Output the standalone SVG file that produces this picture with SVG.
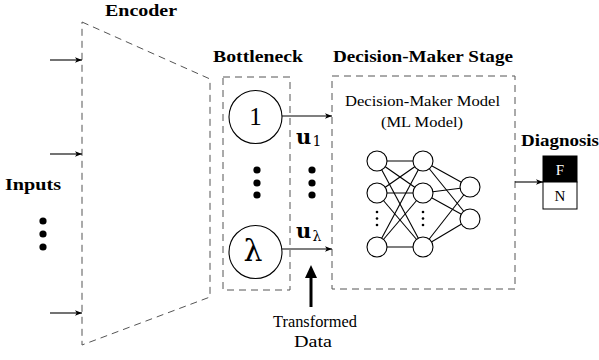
<svg xmlns="http://www.w3.org/2000/svg" width="599" height="360" viewBox="0 0 599 360">
  <style>
    .dash { fill: none; stroke: #555; stroke-width: 1; stroke-dasharray: 7 5; }
    .wire { fill: none; stroke: #000; stroke-width: 1.1; }
    .arrow { fill: none; stroke: #000; stroke-width: 1.1; marker-end: url(#tip); }
    .node { fill: #fff; stroke: #000; stroke-width: 1.1; }
    .dot { fill: #000; }
    .title { font-family: "Liberation Serif", "Times New Roman", "DejaVu Serif", serif; font-weight: bold; font-size: 17px; fill: #000; }
    .label { font-family: "Liberation Serif", "Times New Roman", "DejaVu Serif", serif; font-size: 14.5px; fill: #000; }
    .math { font-family: "DejaVu Serif", "Liberation Serif", serif; fill: #000; }
  </style>
  <defs>
    <marker id="tip" viewBox="0 0 10 10" refX="10" refY="5" markerWidth="7" markerHeight="7" markerUnits="userSpaceOnUse" orient="auto">
      <path d="M0,1 L10,5 L0,9 L2.5,5 Z" fill="#000"/>
    </marker>
  </defs>

  <rect width="599" height="360" fill="#fff"/>

  <!-- Encoder -->
  <g id="encoder">
    <polygon class="dash" points="82,22 210,79 210,297 82,345"/>
    <text class="title" x="105" y="16" textLength="72" lengthAdjust="spacingAndGlyphs">Encoder</text>
  </g>

  <!-- Inputs -->
  <g id="inputs">
    <text class="title" x="5" y="190" textLength="56" lengthAdjust="spacingAndGlyphs">Inputs</text>
    <circle class="dot" cx="43" cy="221" r="3.6"/>
    <circle class="dot" cx="43" cy="234" r="3.6"/>
    <circle class="dot" cx="43" cy="247" r="3.6"/>
  </g>

  <!-- Bottleneck -->
  <g id="bottleneck">
    <rect class="dash" x="223" y="77" width="67" height="213"/>
    <text class="title" x="213" y="62" textLength="90" lengthAdjust="spacingAndGlyphs">Bottleneck</text>
    <circle class="node" cx="255.5" cy="117" r="26.5"/>
    <text class="label" x="255.5" y="125" text-anchor="middle" style="font-size:25px">1</text>
    <circle class="dot" cx="257" cy="170" r="3.6"/>
    <circle class="dot" cx="257" cy="183" r="3.6"/>
    <circle class="dot" cx="257" cy="195" r="3.6"/>
    <circle class="node" cx="255.5" cy="252" r="26.5"/>
    <text class="math" x="253" y="261" text-anchor="middle" style="font-size:30px">λ</text>
  </g>

  <!-- Latent outputs -->
  <g id="latent">
    <text class="math" x="296" y="144" style="font-size:21px;font-weight:bold">u</text>
    <text class="math" x="312.5" y="146" style="font-size:14px">1</text>
    <circle class="dot" cx="312" cy="170" r="3.6"/>
    <circle class="dot" cx="312" cy="183" r="3.6"/>
    <circle class="dot" cx="312" cy="195" r="3.6"/>
    <text class="math" x="296" y="238" style="font-size:21px;font-weight:bold">u</text>
    <text class="math" x="312.5" y="241" style="font-size:14px">λ</text>
  </g>

  <!-- Transformed data callout -->
  <g id="transformed">
    <line x1="311" y1="307" x2="311" y2="276" stroke="#000" stroke-width="3"/>
    <polygon points="311,265 305,278 317,278" fill="#000"/>
    <text class="label" x="315" y="327" text-anchor="middle" textLength="84" lengthAdjust="spacingAndGlyphs" style="font-size:16px">Transformed</text>
    <text class="label" x="313" y="347" text-anchor="middle" textLength="38" lengthAdjust="spacingAndGlyphs" style="font-size:16px">Data</text>
  </g>

  <!-- Decision-maker stage -->
  <g id="decision-stage">
    <rect class="dash" x="332" y="76" width="183" height="213"/>
    <text class="title" x="333" y="62" textLength="180" lengthAdjust="spacingAndGlyphs">Decision-Maker Stage</text>
    <text class="label" x="345" y="106" textLength="155" lengthAdjust="spacingAndGlyphs">Decision-Maker Model</text>
    <text class="label" x="381" y="127" textLength="82" lengthAdjust="spacingAndGlyphs">(ML Model)</text>
  </g>

  <!-- ML model network -->
  <g id="ml-model">
    <g class="wire">
      <line x1="377" y1="161" x2="423" y2="161"/>
      <line x1="377" y1="161" x2="423" y2="193"/>
      <line x1="377" y1="161" x2="423" y2="247"/>
      <line x1="377" y1="193" x2="423" y2="161"/>
      <line x1="377" y1="193" x2="423" y2="193"/>
      <line x1="377" y1="193" x2="423" y2="247"/>
      <line x1="377" y1="247" x2="423" y2="161"/>
      <line x1="377" y1="247" x2="423" y2="193"/>
      <line x1="377" y1="247" x2="423" y2="247"/>
      <line x1="423" y1="161" x2="470" y2="187"/>
      <line x1="423" y1="161" x2="470" y2="219"/>
      <line x1="423" y1="193" x2="470" y2="187"/>
      <line x1="423" y1="193" x2="470" y2="219"/>
      <line x1="423" y1="247" x2="470" y2="187"/>
      <line x1="423" y1="247" x2="470" y2="219"/>
    </g>
    <circle class="node" cx="377" cy="161" r="10"/>
    <circle class="node" cx="377" cy="193" r="10"/>
    <circle class="node" cx="377" cy="247" r="10"/>
    <circle class="node" cx="423" cy="161" r="10"/>
    <circle class="node" cx="423" cy="193" r="10"/>
    <circle class="node" cx="423" cy="247" r="10"/>
    <circle class="node" cx="470" cy="187" r="10"/>
    <circle class="node" cx="470" cy="219" r="10"/>
    <circle class="dot" cx="377" cy="212" r="1.3"/>
    <circle class="dot" cx="377" cy="218.5" r="1.3"/>
    <circle class="dot" cx="377" cy="225" r="1.3"/>
    <circle class="dot" cx="423" cy="212" r="1.3"/>
    <circle class="dot" cx="423" cy="218.5" r="1.3"/>
    <circle class="dot" cx="423" cy="225" r="1.3"/>
  </g>

  <!-- Diagnosis output -->
  <g id="diagnosis">
    <text class="title" x="521" y="146" textLength="78" lengthAdjust="spacingAndGlyphs">Diagnosis</text>
    <rect x="543" y="156" width="34" height="26" fill="#000" stroke="#000" stroke-width="1"/>
    <rect x="543" y="182" width="34" height="27" fill="#fff" stroke="#000" stroke-width="1"/>
    <text class="label" x="560" y="174.5" text-anchor="middle" style="font-size:15px;fill:#fff">F</text>
    <text class="label" x="560" y="201" text-anchor="middle" style="font-size:15px">N</text>
  </g>

  <!-- Connectors -->
  <g id="connectors">
    <line class="arrow" x1="50" y1="60" x2="82" y2="60"/>
    <line class="arrow" x1="50" y1="154" x2="82" y2="154"/>
    <line class="arrow" x1="50" y1="313" x2="82" y2="313"/>
    <line class="arrow" x1="282" y1="116" x2="332" y2="116"/>
    <line class="arrow" x1="282" y1="249" x2="332" y2="249"/>
    <line class="arrow" x1="515" y1="182" x2="543" y2="182"/>
  </g>
</svg>
